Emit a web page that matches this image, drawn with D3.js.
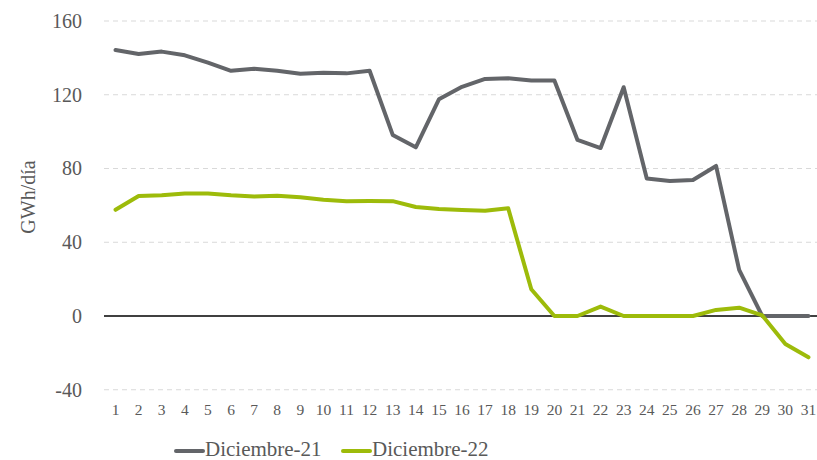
<!DOCTYPE html>
<html>
<head>
<meta charset="utf-8">
<script src="https://cdn.jsdelivr.net/npm/d3@7"></script>
<style>
  body { margin: 0; background: #fff; }
</style>
</head>
<body>
<script>
// Data
const days = d3.range(1, 32).map(String);
const dic21 = [144.3, 142.1, 143.4, 141.4, 137.4, 133.0, 134.1, 133.0, 131.4, 131.9,
               131.6, 133.0, 98.2, 91.5, 117.5, 124.3, 128.6, 128.9, 127.7, 127.7,
               95.5, 91.1, 124.1, 74.6, 73.2, 73.8, 81.4, 25.0, 0, 0, 0];
const dic22 = [57.6, 65.1, 65.5, 66.5, 66.5, 65.5, 64.8, 65.2, 64.4, 63.1,
               62.3, 62.4, 62.3, 59.1, 58.0, 57.5, 57.1, 58.4, 14.5, 0,
               0, 5.1, 0, 0, 0, 0, 3.3, 4.5, 0.3, -15.2, -22.4];
const yTicks = [-40, 0, 40, 80, 120, 160];
const seriesNames = ['Diciembre-21', 'Diciembre-22'];
const colors = ['#636569', '#9dbb0a'];

const width = 817, height = 460;
const font = '"Liberation Serif", serif';
const textColor = '#595959';

const svg = d3.select('body').append('svg')
    .attr('width', width)
    .attr('height', height);

const x = d3.scaleBand()
    .domain(days)
    .range([104, 820]);

const y = d3.scaleLinear()
    .domain([-40, 160])
    .range([389.75, 21]);

// Gridlines
svg.append('g')
    .selectAll('line')
    .data(yTicks.filter(d => d !== 0))
    .enter()
    .append('line')
    .attr('x1', 104)
    .attr('x2', width)
    .attr('y1', d => y(d))
    .attr('y2', d => y(d))
    .attr('stroke', '#d9d9d9')
    .attr('stroke-width', 1)
    .attr('stroke-dasharray', '5,4');

// Zero line
svg.append('line')
    .attr('x1', 104)
    .attr('x2', width)
    .attr('y1', y(0))
    .attr('y2', y(0))
    .attr('stroke', '#000')
    .attr('stroke-width', 1.3);

// Y axis labels
const yAxis = svg.append('g')
    .attr('transform', 'translate(82,0)')
    .call(d3.axisLeft(y).tickValues(yTicks).tickFormat(d => String(d)).tickSize(0).tickPadding(0));
yAxis.select('.domain').remove();
yAxis.selectAll('text')
    .style('font-size', '20px')
    .style('font-family', font)
    .attr('fill', textColor);

// X axis labels
const xAxis = svg.append('g')
    .attr('transform', 'translate(0,404)')
    .call(d3.axisBottom(x).tickSize(0).tickPadding(0));
xAxis.select('.domain').remove();
xAxis.selectAll('text')
    .style('font-size', '15.5px')
    .style('font-family', font)
    .attr('fill', textColor);

// Y axis title
svg.append('text')
    .attr('transform', 'translate(35,197) rotate(-90)')
    .attr('text-anchor', 'middle')
    .style('font-size', '20px')
    .style('font-family', font)
    .attr('fill', textColor)
    .text('GWh/día');

// Lines
const line = d3.line()
    .x((d, i) => x(days[i]) + x.bandwidth() / 2)
    .y(d => y(d));

[dic21, dic22].forEach((s, k) => {
    svg.append('path')
        .datum(s)
        .attr('d', line)
        .attr('fill', 'none')
        .attr('stroke', colors[k])
        .attr('stroke-width', 4)
        .attr('stroke-linejoin', 'round')
        .attr('stroke-linecap', 'round');
});

// Legend
const legendX = [176, 343];
const legend = svg.append('g');
seriesNames.forEach((name, k) => {
    legend.append('line')
        .attr('x1', legendX[k])
        .attr('x2', legendX[k] + 27)
        .attr('y1', 451)
        .attr('y2', 451)
        .attr('stroke', colors[k])
        .attr('stroke-width', 4)
        .attr('stroke-linecap', 'round');
    legend.append('text')
        .attr('x', legendX[k] + 29)
        .attr('y', 456)
        .style('font-size', '21px')
        .style('font-family', font)
        .attr('fill', textColor)
        .text(name);
});
</script>
</body>
</html>
